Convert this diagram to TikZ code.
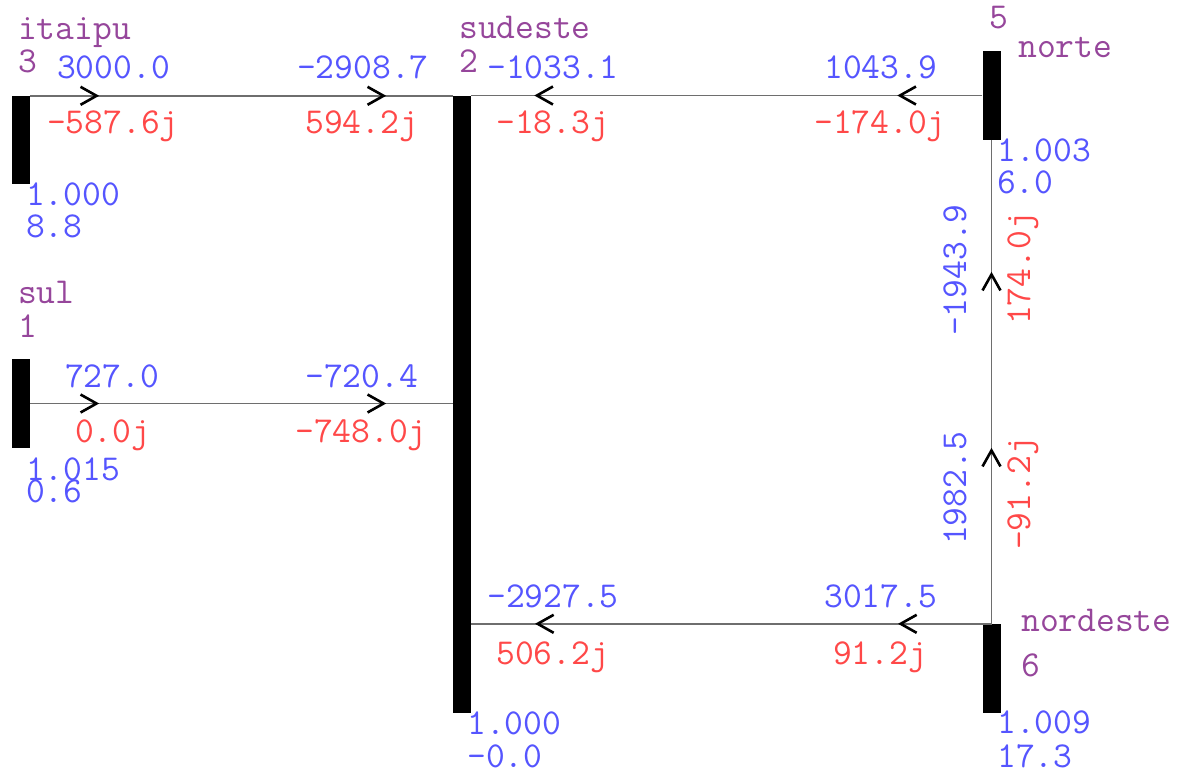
\documentclass[tikz,border=0pt]{standalone}
\usepackage{fontspec}
\usetikzlibrary{arrows.meta,decorations.markings}
\definecolor{busname}{RGB}{150,70,155}
\definecolor{pval}{RGB}{85,85,255}
\definecolor{qval}{RGB}{255,72,72}
\definecolor{wire}{RGB}{110,110,110}
\tikzset{
  flowtip/.tip={Straight Barb[length=16pt,width=18pt,line width'=2.6pt,color=black]},
  bus/.style={fill=black,draw=none,minimum width=18pt,inner sep=0pt},
  lbl/.style={anchor=base west,inner sep=0pt,font=\ttfamily\fontsize{36.5}{40}\selectfont},
  nm/.style={lbl,text=busname},
  pv/.style={lbl,text=pval,text height=21pt,text depth=0.5pt},
  qv/.style={lbl,text=qval},
  wireline/.style={draw=wire,line width=1.6pt},
  flow/.style 2 args={wireline,postaction={decorate,decoration={markings,
     mark=at position #1 with {\arrow{flowtip}},
     mark=at position #2 with {\arrow{flowtip}}}}}
}
\begin{document}
\begin{tikzpicture}[x=1pt,y=-1pt]
\useasboundingbox[fill=white] (0,0) rectangle (1184,772);
% buses
\node[bus,minimum height=88pt] (itaipu) at (21,140) {};
\node[bus,minimum height=617pt] (sudeste) at (462,404.5) {};
\node[bus,minimum height=89pt] (norte) at (991.5,95.5) {};
\node[bus,minimum height=89pt] (nordeste) at (991.5,668.5) {};
\node[bus,minimum height=89pt] (sul) at (21,403.5) {};
% lines
\draw[flow={69pt}{356pt}] (itaipu.north east) -- (itaipu.north east -| sudeste.west);
\draw[flow={69pt}{356pt}] (sul.east) -- (sul.east -| sudeste.west);
\draw[flow={85pt}{448pt}] (norte.west) -- (norte.west -| sudeste.east);
\draw[flow={93.5pt}{456.5pt}] (nordeste.north) -- (nordeste.north -| sudeste.east);
\draw[flow={176pt}{352pt}] (nordeste.north) -- (norte.south);
% itaipu
\node[nm] (n3name) at (18,39) {itaipu};
\node[nm] (n3num) at (18,72) {3};
\node[pv] (p32) at (57,78) {3000.0};
\node[qv] (q32) at (47,133) {-587.6j};
\node[pv] (p23) at (297,78) {-2908.7};
\node[qv] (q23) at (305,133) {594.2j};
\node[pv] (v3) at (26,205) {1.000};
\node[pv] (a3) at (26,237) {8.8};
% sudeste
\node[nm] (n2name) at (459,38) {sudeste};
\node[nm] (n2num) at (459,72) {2};
\node[pv] (p25) at (487,78) {-1033.1};
\node[qv] (q25) at (496,133) {-18.3j};
\node[pv] (p52) at (824,78) {1043.9};
\node[qv] (q52) at (814,133) {-174.0j};
\node[pv] (v2) at (467,734) {1.000};
\node[pv] (a2) at (467,767) {-0.0};
% norte
\node[nm] (n5num) at (989,28) {5};
\node[nm] (n5name) at (1018,57) {norte};
\node[pv] (v5) at (997,161) {1.003};
\node[pv] (a5) at (997,193) {6.0};
\node[pv,rotate=90] (p56) at (966,336) {-1943.9};
\node[qv,rotate=90] (q56) at (1030,325) {174.0j};
\node[pv,rotate=90] (p65) at (966,545) {1982.5};
\node[qv,rotate=90] (q65) at (1030,550) {-91.2j};
% nordeste
\node[nm] (n6name) at (1021,631) {nordeste};
\node[nm] (n6num) at (1021,676) {6};
\node[pv] (v6) at (997,733) {1.009};
\node[pv] (a6) at (997,767) {17.3};
\node[pv] (p26) at (487,607) {-2927.5};
\node[qv] (q26) at (496,664) {506.2j};
\node[pv] (p62) at (824,607) {3017.5};
\node[qv] (q62) at (833,664) {91.2j};
% sul
\node[nm] (n1name) at (18,303) {sul};
\node[nm] (n1num) at (18,337) {1};
\node[pv] (p12) at (65,387) {727.0};
\node[pv] (p21) at (305,387) {-720.4};
\node[qv] (q12) at (75,442) {0.0j};
\node[qv] (q21) at (295,442) {-748.0j};
\node[pv] (v1) at (26,480) {1.015};
\node[pv] (a1) at (26,502) {0.6};
\end{tikzpicture}
\end{document}
